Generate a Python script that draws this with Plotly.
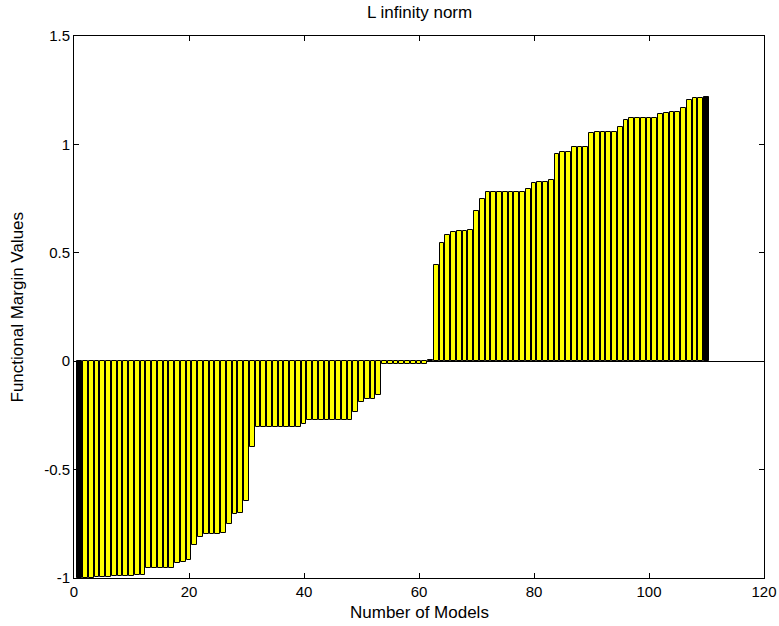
import plotly.graph_objects as go

model_index = list(range(1, 111))
margin_values = [
    -1.0, -1.0, -1.0, -0.995, -0.995, -0.995, -0.99, -0.99, -0.99, -0.99,
    -0.985, -0.985, -0.955, -0.955, -0.955, -0.955, -0.955, -0.93, -0.927, -0.915,
    -0.85, -0.81, -0.798, -0.795, -0.795, -0.792, -0.75, -0.706, -0.698, -0.646,
    -0.396, -0.302, -0.302, -0.302, -0.302, -0.302, -0.302, -0.302, -0.302, -0.289,
    -0.273, -0.273, -0.273, -0.273, -0.273, -0.273, -0.273, -0.273, -0.234, -0.188,
    -0.176, -0.173, -0.158, -0.014, -0.014, -0.014, -0.014, -0.014, -0.014, -0.014,
    -0.014, 0.004, 0.442, 0.545, 0.582, 0.597, 0.602, 0.602, 0.607, 0.694,
    0.747, 0.779, 0.782, 0.782, 0.782, 0.782, 0.782, 0.782, 0.796, 0.82,
    0.826, 0.828, 0.834, 0.957, 0.963, 0.963, 0.986, 0.986, 0.986, 1.052,
    1.059, 1.059, 1.059, 1.059, 1.08, 1.113, 1.12, 1.12, 1.12, 1.12,
    1.12, 1.142, 1.146, 1.148, 1.151, 1.169, 1.203, 1.213, 1.214, 1.219,
]
x_ticks = [0, 20, 40, 60, 80, 100, 120]
y_ticks = [-1, -0.5, 0, 0.5, 1, 1.5]
y_tick_labels = ["-1", "-0.5", "0", "0.5", "1", "1.5"]

colors = ["#000000" if i in (0, len(margin_values) - 1) else "#FFFF00"
          for i in range(len(margin_values))]

FONT = "Liberation Sans, Arial, Helvetica, sans-serif"

fig = go.Figure(go.Bar(
    x=model_index, y=margin_values, width=0.8,
    marker=dict(color=colors, line=dict(color="#000000", width=1)),
))

fig.update_layout(
    width=779, height=626,
    margin=dict(l=74, r=15, t=36, b=48, autoexpand=False),
    paper_bgcolor="white", plot_bgcolor="white",
    showlegend=False, bargap=0,
    font=dict(family=FONT, size=15, color="black"),
    annotations=[
        dict(text="L infinity norm", x=0.5, y=1, xref="paper", yref="paper",
             xanchor="center", yanchor="bottom", yshift=12, showarrow=False,
             font=dict(family=FONT, size=17)),
        dict(text="Number of Models", x=0.5, y=0, xref="paper", yref="paper",
             xanchor="center", yanchor="top", yshift=-23, showarrow=False,
             font=dict(family=FONT, size=17)),
        dict(text="Functional Margin Values", x=0, y=0.5, xref="paper", yref="paper",
             xanchor="right", yanchor="middle", xshift=-46, textangle=-90,
             showarrow=False, font=dict(family=FONT, size=17)),
    ],
)
fig.update_xaxes(
    range=[0, 120], tickvals=x_ticks, ticks="inside", ticklen=5,
    showline=True, linecolor="black", linewidth=1, mirror="ticks",
    showgrid=False, zeroline=False, tickcolor="black", automargin=False,
)
fig.update_yaxes(
    range=[-1, 1.5], tickvals=y_ticks, ticktext=y_tick_labels, ticks="inside", ticklen=5,
    showline=True, linecolor="black", linewidth=1, mirror="ticks",
    showgrid=False, zeroline=True, zerolinecolor="black", zerolinewidth=1,
    tickcolor="black", automargin=False,
)

fig.write_html("out.html")
